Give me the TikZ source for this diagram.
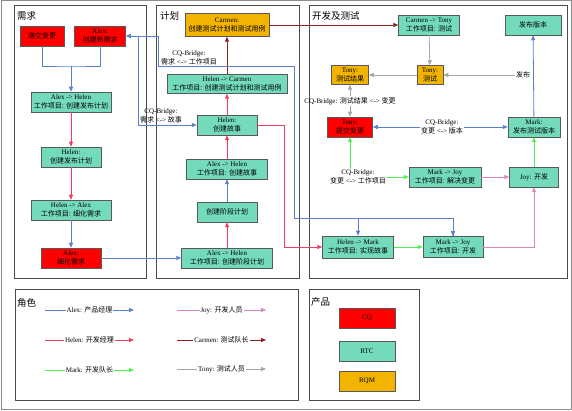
\documentclass[tikz,border=0pt]{standalone}
\usepackage{fontspec}
\setmainfont{Liberation Serif}
\newfontfamily\cjkfont{Noto Sans CJK SC}
\usepackage{tikz}
\usepackage{xcolor}
\usetikzlibrary{positioning, arrows.meta}

\definecolor{cqred}{RGB}{255,0,0}
\definecolor{rtcgreen}{RGB}{115,219,188}
\definecolor{rqmorange}{RGB}{242,180,0}
\definecolor{alexblue}{RGB}{88,128,204}
\definecolor{helenred}{RGB}{240,60,100}
\definecolor{markgreen}{RGB}{80,240,80}
\definecolor{joypink}{RGB}{220,130,190}
\definecolor{carmenbrown}{RGB}{140,30,30}
\definecolor{tonygray}{RGB}{165,165,165}

\newcommand{\zh}[1]{{\cjkfont #1}}
\newcommand{\smalltext}{\fontsize{7}{8.4}\selectfont}
\newcommand{\titletext}{\fontsize{9.5}{11}\selectfont}

\tikzset{
    box/.style={draw=black!65, line width=0.5pt, minimum height=20pt, inner sep=1pt, align=center, font=\smalltext},
    rtc/.style={box, fill=rtcgreen},
    cq/.style={box, fill=cqred},
    rqm/.style={box, fill=rqmorange},
    bridge/.style={inner sep=1pt, align=center, font=\smalltext},
    panel/.style={draw=black!70, line width=0.6pt},
    tip/.style={-{Triangle[width=4pt,length=5pt]}},
    alexline/.style={draw=alexblue, line width=0.8pt},
    helenline/.style={draw=helenred, line width=0.8pt},
    markline/.style={draw=markgreen, line width=0.8pt},
    joyline/.style={draw=joypink, line width=0.8pt},
    carmenline/.style={draw=carmenbrown, line width=0.8pt},
    tonyline/.style={draw=tonygray, line width=0.8pt},
    legend/.style={fill=white, inner sep=1pt, font=\smalltext},
}

\begin{document}
\begin{tikzpicture}[x=1pt, y=-1pt]
    \useasboundingbox (0,0) rectangle (572,411);
    \draw[black!45, line width=1pt] (1,1) rectangle (571,409);

    % panels
    \draw[panel] (14,5) rectangle (146,278);
    \draw[panel] (156,5) rectangle (299,278);
    \draw[panel] (309,5) rectangle (567,278);
    \draw[panel] (15,289) rectangle (298,400);
    \draw[panel] (309,289) rectangle (419,400);

    % requirements
    \node[font=\titletext, anchor=west, inner sep=0pt] (reqtitle) at (17,16) {\zh{需求}};
    \node[cq, minimum width=44pt] (chgreq) at (42,36) {\zh{递交变更}};
    \node[cq, minimum width=51pt] (newreq) at (100,36) {Alex:\\\zh{创建新需求}};
    \node[rtc, minimum width=80pt] (relplanwi) at (71,102) {Alex -> Helen\\\zh{工作项目: 创建发布计划}};
    \node[rtc, minimum width=60pt] (relplan) at (71,157) {Helen:\\\zh{创建发布计划}};
    \node[rtc, minimum width=80pt] (refinewi) at (71,210) {Helen -> Alex\\\zh{工作项目: 细化需求}};
    \node[cq, minimum width=60pt] (refine) at (71,258) {Alex:\\\zh{细化需求}};

    % planning
    \node[font=\titletext, anchor=west, inner sep=0pt] (plantitle) at (160,16) {\zh{计划}};
    \node[rqm, minimum width=84pt, minimum height=23pt] (testplan) at (227,25) {Carmen:\\\zh{创建测试计划和测试用例}};
    \node[rtc, minimum width=120pt, minimum height=19pt] (testplanwi) at (227,84) {Helen -> Carmen\\\zh{工作项目: 创建测试计划和测试用例}};
    \node[rtc, minimum width=60pt] (story) at (227,125) {Helen:\\\zh{创建故事}};
    \node[rtc, minimum width=81pt] (storywi) at (227,169) {Alex -> Helen\\\zh{工作项目: 创建故事}};
    \node[rtc, minimum width=60pt] (iterplan) at (227,212) {\zh{创建阶段计划}};
    \node[rtc, minimum width=91pt] (iterplanwi) at (227,258) {Alex -> Helen\\\zh{工作项目: 创建阶段计划}};

    % development and test
    \node[font=\titletext, anchor=west, inner sep=0pt] (devtitle) at (312,16) {\zh{开发及测试}};
    \node[rtc, minimum width=61pt] (testwi) at (429,25) {Carmen -> Tony\\\zh{工作项目: 测试}};
    \node[rtc, minimum width=56pt] (release) at (533,25) {\zh{发布版本}};
    \node[rqm, minimum width=26pt, minimum height=19pt] (test) at (430,75) {Tony:\\\zh{测试}};
    \node[rqm, minimum width=37pt, minimum height=19pt] (testres) at (350,75) {Tony:\\\zh{测试结果}};
    \node[cq, minimum width=45pt] (submit) at (350,127) {Tony:\\\zh{提交变更}};
    \node[rtc, minimum width=52pt] (testbuild) at (534,127) {Mark:\\\zh{发布测试版本}};
    \node[rtc, minimum width=72pt] (fixwi) at (445,177) {Mark -> Joy\\\zh{工作项目: 解决变更}};
    \node[rtc, minimum width=49pt] (dev) at (534,177) {Joy: \zh{开发}};
    \node[rtc, minimum width=71pt, minimum height=22pt] (implwi) at (358,247) {Helen -> Mark\\\zh{工作项目: 实现故事}};
    \node[rtc, minimum width=60pt, minimum height=21pt] (devwi) at (453,247) {Mark -> Joy\\\zh{工作项目: 开发}};

    % bridge labels
    \node[bridge] (brstory) at (161,116) {CQ-Bridge:\\\zh{需求} <-> \zh{故事}};
    \node[bridge] (brwi) at (189,58) {CQ-Bridge:\\\zh{需求} <-> \zh{工作项目}};
    \node[bridge] (brtest) at (350,101) {CQ-Bridge: \zh{测试结果} <-> \zh{变更}};
    \node[bridge] (brbuild) at (442,127) {CQ-Bridge:\\\zh{变更} <-> \zh{版本}};
    \node[bridge] (brchg) at (358,177) {CQ-Bridge:\\\zh{变更} <-> \zh{工作项目}};
    \node[bridge] (pub) at (523,75) {\zh{发布}};

    \coordinate (reqjoin) at (71,66);
    \coordinate (storyturn) at (138,36);
    \coordinate (witurn) at (158,36);
    \coordinate (wibusa) at (294,66);
    \coordinate (wibusb) at (294,218);
    \coordinate (implturn) at (284,125);

    % connectors
    \draw[alexline] (chgreq.south) |- (reqjoin) -| (newreq.south);
    \draw[alexline, tip] (reqjoin) -- (relplanwi.north);
    \draw[helenline, tip] (relplanwi) -- (relplan);
    \draw[helenline, tip] (relplan) -- (refinewi);
    \draw[alexline, tip] (refinewi) -- (refine);
    \draw[alexline, tip] (refine) -- (iterplanwi);

    \draw[helenline, tip] (iterplanwi) -- (iterplan);
    \draw[alexline, tip] (iterplan) -- (storywi);
    \draw[helenline, tip] (storywi) -- (story);
    \draw[helenline, tip] (story) -- (testplanwi);
    \draw[carmenline, tip] (testplanwi) -- (testplan);
    \draw[carmenline, tip] (testplan.east) -- (testwi.west);

    \draw[alexline, {Triangle[width=4pt,length=5pt]}-{Triangle[width=4pt,length=5pt]}] (newreq.east) -- (storyturn) |- (story.west);
    \draw[alexline] (storyturn) -- (witurn) |- (wibusa) -- (wibusb) -| (devwi.north);
    \draw[alexline, tip] (wibusb -| implwi.north) -- (implwi.north);
    \draw[alexline, tip] (wibusb -| devwi.north) -- (devwi.north);
    \draw[helenline, tip] (story.east) -- (implturn) |- (implwi.west);

    \draw[tonyline, tip] (testwi) -- (test);
    \draw[tonyline, tip] (test) -- (testres);
    \draw[tonyline, tip] (pub) -- (test);
    \draw[alexline, tip] (testbuild) -- (release);
    \draw[tonyline, tip] (brtest) -- (testres);
    \draw[tonyline, tip] (brtest) -- (submit);
    \draw[alexline, tip] (brbuild) -- (submit);
    \draw[alexline, tip] (brbuild) -- (testbuild);
    \draw[markline, tip] (brchg.north -| submit.south) -- (submit.south);
    \draw[markline, tip] (brchg) -- (fixwi);
    \draw[joyline, tip] (fixwi) -- (dev);
    \draw[markline, tip] (dev) -- (testbuild);
    \draw[markline, tip] (implwi) -- (devwi);
    \draw[joyline, tip] (devwi.east) -| (dev.south);

    % roles
    \node[font=\titletext, anchor=west, inner sep=0pt] (roletitle) at (17,303) {\zh{角色}};
    \foreach \who/\name/\job/\x/\y in {alex/Alex/产品经理/45/310, helen/Helen/开发经理/45/340, mark/Mark/开发队长/45/370,
        joy/Joy/开发人员/177/310, carmen/Carmen/测试队长/177/340, tony/Tony/测试人员/177/369} {
        \coordinate (\who a) at (\x,\y);
        \coordinate (\who b) at (\x+89,\y);
        \draw[\who line, tip] (\who a) -- node[legend] {\name: \zh{\job}} (\who b);
    }

    % products
    \node[font=\titletext, anchor=west, inner sep=0pt] (prodtitle) at (311,302) {\zh{产品}};
    \node[cq, minimum width=56pt] (cqbox) at (367,318) {CQ};
    \node[rtc, minimum width=56pt] (rtcbox) at (367,351) {RTC};
    \node[rqm, minimum width=56pt] (rqmbox) at (367,381) {RQM};
\end{tikzpicture}
\end{document}
